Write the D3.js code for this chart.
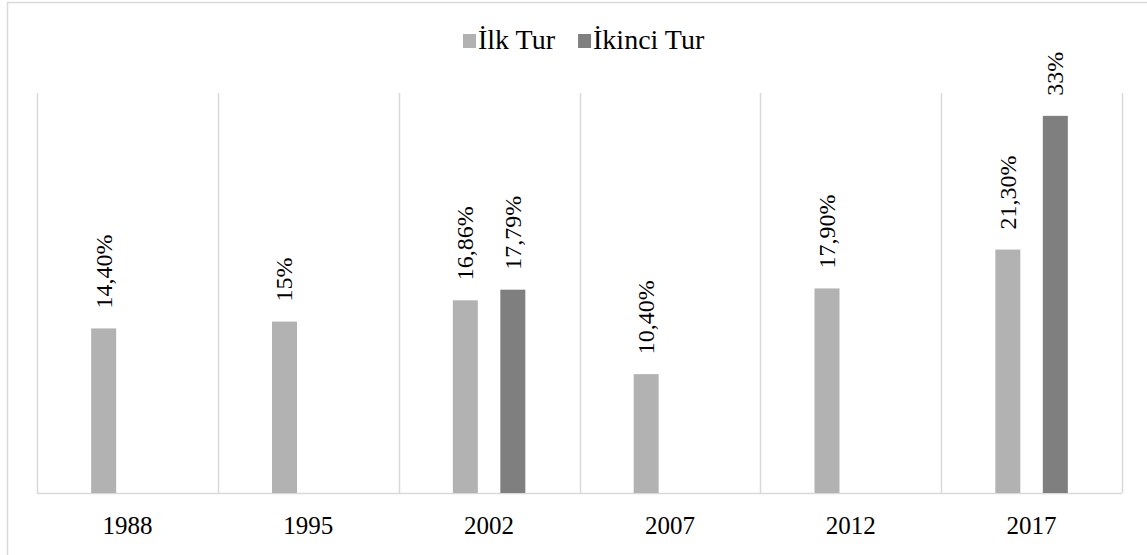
<!DOCTYPE html>
<html>
<head>
<meta charset="utf-8">
<script src="https://cdn.jsdelivr.net/npm/d3@7"></script>
<style>
  body { margin: 0; background: #fff; }
  svg text { font-family: "Liberation Serif", "Times New Roman", serif; fill: #000; }
</style>
</head>
<body>
<div id="chart"></div>
<script>
// data
var years = ["1988", "1995", "2002", "2007", "2012", "2017"];
var series = ["İlk Tur", "İkinci Tur"];
var ilkTur = [14.40, 15, 16.86, 10.40, 17.90, 21.30];
var ikinciTur = [null, null, 17.79, null, null, 33];
var labelsIlk = ["14,40%", "15%", "16,86%", "10,40%", "17,90%", "21,30%"];
var labelsIkinci = [null, null, "17,79%", null, null, "33%"];
var colors = ["#b2b2b2", "#7f7f7f"];

var W = 1147, H = 555;
var margin = {top: 93, right: 25, bottom: 62, left: 37},
    width = W - margin.left - margin.right,
    height = H - margin.top - margin.bottom;

var svg = d3.select("#chart").append("svg")
    .attr("width", W)
    .attr("height", H);

// outer border
svg.append("rect")
    .attr("x", 7.5).attr("y", 2.5)
    .attr("width", W).attr("height", H)
    .attr("fill", "none")
    .attr("stroke", "#d9d9d9")
    .attr("stroke-width", 1.5);

var g = svg.append("g")
    .attr("transform", "translate(" + margin.left + "," + margin.top + ")");

var x = d3.scaleBand()
    .domain(years)
    .range([0, width])
    .paddingInner(0).paddingOuter(0);

var x1 = d3.scaleBand()
    .domain(series)
    .range([x.bandwidth() / 2 - 47.5, x.bandwidth() / 2 + 47.5])
    .paddingInner(0.9)
    .paddingOuter(0.45);

var y = d3.scaleLinear()
    .domain([0, 35])
    .range([height, 0]);

// vertical gridlines at category boundaries
var bounds = years.map(function(d) { return x(d); }).concat([width]);
g.selectAll(".vgrid")
    .data(bounds)
  .enter().append("line")
    .attr("x1", function(d) { return Math.round(d) + 0.5; })
    .attr("x2", function(d) { return Math.round(d) + 0.5; })
    .attr("y1", 0)
    .attr("y2", height)
    .attr("stroke", "#d9d9d9")
    .attr("stroke-width", 1.5);

// baseline axis
g.append("line")
    .attr("x1", 0).attr("x2", width)
    .attr("y1", height + 0.5).attr("y2", height + 0.5)
    .attr("stroke", "#d9d9d9")
    .attr("stroke-width", 1.5);

var rows = [];
years.forEach(function(yr, i) {
  rows.push({year: yr, s: series[0], v: ilkTur[i], label: labelsIlk[i], c: colors[0]});
  if (ikinciTur[i] != null) {
    rows.push({year: yr, s: series[1], v: ikinciTur[i], label: labelsIkinci[i], c: colors[1]});
  }
});

var bw = 25;
g.selectAll(".bar")
    .data(rows)
  .enter().append("rect")
    .attr("class", "bar")
    .attr("x", function(d) { return x(d.year) + x1(d.s) + x1.bandwidth() / 2 - bw / 2; })
    .attr("y", function(d) { return y(d.v); })
    .attr("width", bw)
    .attr("height", function(d) { return height - y(d.v); })
    .attr("fill", function(d) { return d.c; });

// value labels, rotated
g.selectAll(".lbl")
    .data(rows)
  .enter().append("text")
    .attr("class", "lbl")
    .attr("transform", function(d) {
      var cx = x(d.year) + x1(d.s) + x1.bandwidth() / 2;
      return "translate(" + cx + "," + (y(d.v) - 20) + ") rotate(-90)";
    })
    .attr("dy", "0.33em")
    .style("font-size", "24px")
    .style("text-anchor", "start")
    .text(function(d) { return d.label; });

// category labels
g.selectAll(".year")
    .data(years)
  .enter().append("text")
    .attr("class", "year")
    .attr("x", function(d) { return x(d) + x.bandwidth() / 2; })
    .attr("y", height + 41)
    .style("font-size", "25px")
    .style("text-anchor", "middle")
    .text(function(d) { return d; });

// legend
var legend = svg.append("g");
var lx = 463;
series.forEach(function(s, i) {
  legend.append("rect")
      .attr("x", lx).attr("y", 34)
      .attr("width", 13).attr("height", 14)
      .attr("fill", colors[i]);
  var t = legend.append("text")
      .attr("x", lx + 15).attr("y", 49)
      .style("font-size", "28px")
      .text(s);
  lx = lx + 15 + t.node().getComputedTextLength() + 23;
});
</script>
</body>
</html>
